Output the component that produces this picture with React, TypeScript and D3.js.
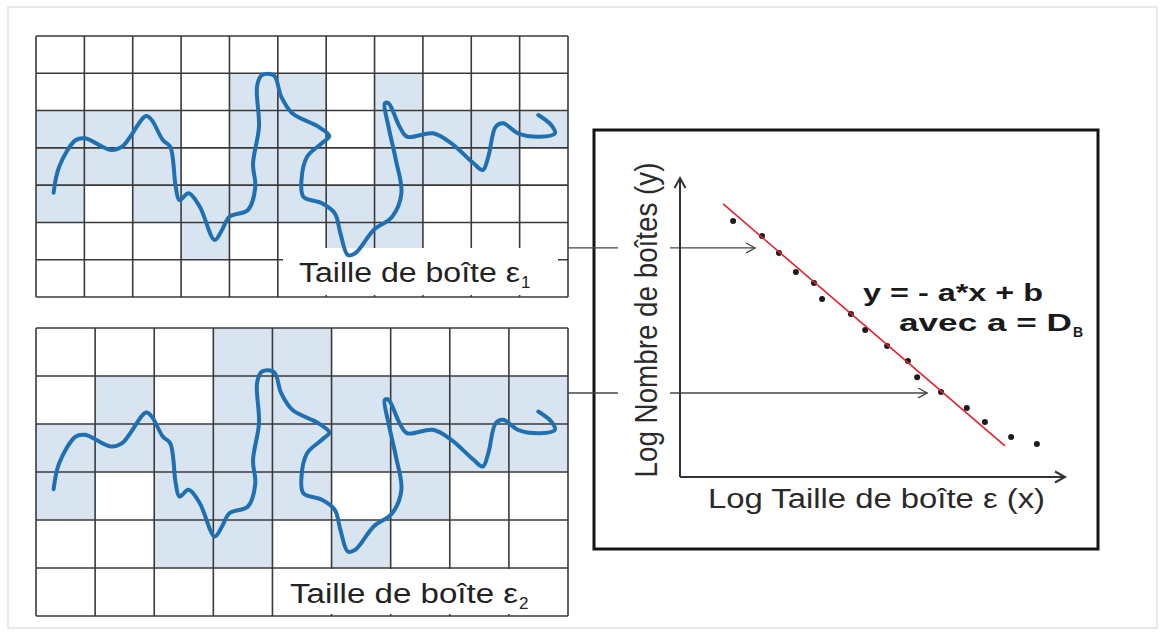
import React, { useEffect, useRef } from 'react';
import * as d3 from 'd3';

const W = 1164;
const H = 635;

// box-counting grids: cells [col, row] that the curve touches
const topCols = 11;
const topRows = 7;
const topShaded = [
  [4, 1], [5, 1], [7, 1],
  [0, 2], [1, 2], [2, 2], [4, 2], [5, 2], [7, 2], [8, 2], [9, 2], [10, 2],
  [0, 3], [1, 3], [2, 3], [4, 3], [5, 3], [7, 3], [8, 3], [9, 3],
  [0, 4], [2, 4], [3, 4], [4, 4], [5, 4], [6, 4], [7, 4],
  [3, 5], [6, 5], [7, 5],
];
const bottomCols = 9;
const bottomRows = 6;
const bottomShaded = [
  [3, 0], [4, 0],
  [1, 1], [3, 1], [4, 1], [5, 1], [6, 1], [7, 1], [8, 1],
  [0, 2], [1, 2], [2, 2], [3, 2], [4, 2], [5, 2], [6, 2], [7, 2], [8, 2],
  [0, 3], [2, 3], [3, 3], [4, 3], [6, 3],
  [2, 4], [3, 4], [5, 4],
];

// the fractal-like curve, in units of the top grid (0..532 x 0..261)
const curvePts = [
  [17.6, 156.7], [23.2, 130.7], [39.8, 104], [49.1, 102.3], [75, 114], [86.1, 110.7],
  [110.1, 80], [115.7, 84], [126.8, 104], [134.2, 110.7], [139.7, 150.7], [143.4, 164],
  [152.7, 157.3], [163.8, 170.7], [178.6, 204], [186, 194], [193.4, 180.7], [211.9, 174],
  [219.3, 150.7], [217, 128], [223, 90.7], [221.1, 50], [226, 39], [238, 39.5],
  [245.2, 60.7], [256.3, 77.3], [282.2, 90.7], [293.3, 100], [285.9, 107.3], [271.1, 120.7],
  [265.5, 144], [267.4, 160.7], [285.9, 167.3], [298.8, 177.3], [304.4, 197.3], [311.8, 219],
  [319.2, 217.3], [337.7, 194], [356.2, 180.7], [365.4, 157.3], [359.9, 124], [352.5, 90.7],
  [348.8, 67.3], [352.5, 67.3], [363.6, 90.7], [371, 100.7], [396.9, 97.3], [415.4, 107.3],
  [437.5, 127.3], [446.8, 134], [452.3, 120.7], [459.7, 90.7], [467.1, 87.3], [481.9, 97.3],
  [504.1, 100.7], [518.9, 97.3], [515.2, 89], [502.3, 79],
];

// log-log plot
const logSize = [1.38, 2.13, 2.57, 3.01, 3.48, 3.69, 4.44, 4.81, 5.38, 5.92, 6.16, 6.78, 7.45, 7.92, 8.6, 9.27];
const logCount = [8.56, 8.06, 7.49, 6.86, 6.49, 5.95, 5.45, 4.92, 4.38, 3.88, 3.34, 2.84, 2.31, 1.84, 1.34, 1.1];
const fitA = 1.105;
const fitB = 10.37;
const fitRange = [1.12, 8.44];
// where each grid's count lands on the y axis, and where its arrow stops
const arrowLevels = [7.66, 2.81];
const arrowTips = [1.95, 6.42];

const font = '"Liberation Sans", Arial, sans-serif';

export default function App() {
  const ref = useRef<SVGSVGElement | null>(null);

  useEffect(() => {
    const svg = d3.select(ref.current);
    svg.selectAll('*').remove();

    svg.append('rect')
      .attr('x', 8).attr('y', 7).attr('width', 1149).attr('height', 621)
      .attr('fill', 'white').attr('stroke', '#d4d4d4').attr('stroke-width', 1);

    const line = d3.line<number[]>().curve(d3.curveCatmullRom.alpha(0.5));

    const drawGrid = (
      x0: number, x1: number, y0: number, y1: number,
      cols: number, rows: number, shaded: number[][],
      label: { rect: number[]; x: number; y: number; len: number; sub: string },
      curveOffset: number,
    ) => {
      const g = svg.append('g');
      const xs = d3.scaleLinear().domain([0, cols]).range([x0, x1]);
      const ys = d3.scaleLinear().domain([0, rows]).range([y0, y1]);

      g.selectAll('rect.cell')
        .data(shaded)
        .enter()
        .append('rect')
        .attr('x', d => xs(d[0]))
        .attr('y', d => ys(d[1]))
        .attr('width', xs(1) - xs(0))
        .attr('height', ys(1) - ys(0))
        .attr('fill', '#d9e4f1');

      g.selectAll('line.v')
        .data(d3.range(cols + 1))
        .enter()
        .append('line')
        .attr('x1', d => xs(d)).attr('x2', d => xs(d))
        .attr('y1', y0).attr('y2', y1)
        .attr('stroke', '#3a3a3a').attr('stroke-width', 1.6);

      g.selectAll('line.h')
        .data(d3.range(rows + 1))
        .enter()
        .append('line')
        .attr('x1', x0).attr('x2', x1)
        .attr('y1', d => ys(d)).attr('y2', d => ys(d))
        .attr('stroke', '#3a3a3a').attr('stroke-width', 1.6);

      const [rx0, ry0, rx1, ry1] = label.rect;
      g.append('rect')
        .attr('x', rx0).attr('y', ry0).attr('width', rx1 - rx0).attr('height', ry1 - ry0)
        .attr('fill', 'white');

      const cx = d3.scaleLinear().domain([0, 532]).range([36, 568]);
      const cy = d3.scaleLinear().domain([0, 261]).range([36 + curveOffset, 297 + curveOffset]);
      g.append('path')
        .attr('d', line(curvePts.map(p => [cx(p[0]), cy(p[1])])))
        .attr('fill', 'none')
        .attr('stroke', '#1f70b2')
        .attr('stroke-width', 4)
        .attr('stroke-linecap', 'round')
        .attr('stroke-linejoin', 'round');

      g.append('text')
        .attr('x', label.x).attr('y', label.y)
        .attr('font-family', font).attr('font-size', 27)
        .attr('fill', '#222')
        .attr('textLength', label.len).attr('lengthAdjust', 'spacingAndGlyphs')
        .text('Taille de boîte ε');
      g.append('text')
        .attr('x', label.x + label.len + 1).attr('y', label.y + 6)
        .attr('font-family', font).attr('font-size', 17)
        .attr('fill', '#222')
        .text(label.sub);
    };

    drawGrid(36, 568, 36, 297, topCols, topRows, topShaded,
      { rect: [283, 248, 558, 295], x: 299, y: 282, len: 221, sub: '1' }, 0);
    drawGrid(36, 568, 328, 616, bottomCols, bottomRows, bottomShaded,
      { rect: [274, 569, 566, 614], x: 290, y: 603, len: 228, sub: '2' }, 296.5);

    // plot box
    svg.append('rect')
      .attr('x', 594).attr('y', 130).attr('width', 504).attr('height', 419)
      .attr('fill', 'white').attr('stroke', '#151515').attr('stroke-width', 3);

    const xS = d3.scaleLinear().domain([0, 10]).range([680, 1065]);
    const yS = d3.scaleLinear().domain([0, 10]).range([477, 178]);

    const arrowHead = (x: number, y: number, dir: 'right' | 'up', size: number) => {
      const pts = dir === 'right'
        ? [[x - size, y - size * 0.55], [x, y], [x - size, y + size * 0.55]]
        : [[x - size * 0.55, y + size], [x, y], [x + size * 0.55, y + size]];
      return d3.line()(pts as [number, number][]);
    };

    // connectors from the grids to the y axis
    arrowLevels.forEach((lv, i) => {
      const y = yS(lv);
      svg.append('line')
        .attr('x1', 568).attr('x2', 618).attr('y1', y).attr('y2', y)
        .attr('stroke', '#444').attr('stroke-width', 1.3);
      svg.append('line')
        .attr('x1', 670).attr('x2', xS(arrowTips[i])).attr('y1', y).attr('y2', y)
        .attr('stroke', '#444').attr('stroke-width', 1.3);
      svg.append('path')
        .attr('d', arrowHead(xS(arrowTips[i]), y, 'right', 9))
        .attr('fill', 'none').attr('stroke', '#444').attr('stroke-width', 1.3);
    });

    // axes
    svg.append('line')
      .attr('x1', xS(0)).attr('x2', xS(0)).attr('y1', yS(0)).attr('y2', yS(10))
      .attr('stroke', '#333').attr('stroke-width', 2);
    svg.append('line')
      .attr('x1', xS(0)).attr('x2', xS(10)).attr('y1', yS(0)).attr('y2', yS(0))
      .attr('stroke', '#333').attr('stroke-width', 2);
    svg.append('path')
      .attr('d', arrowHead(xS(0), yS(10), 'up', 10))
      .attr('fill', 'none').attr('stroke', '#333').attr('stroke-width', 2);
    svg.append('path')
      .attr('d', arrowHead(xS(10), yS(0), 'right', 10))
      .attr('fill', 'none').attr('stroke', '#333').attr('stroke-width', 2);

    // points and fitted line
    svg.selectAll('circle.pt')
      .data(logSize.map((v, i) => [v, logCount[i]]))
      .enter()
      .append('circle')
      .attr('cx', d => xS(d[0]))
      .attr('cy', d => yS(d[1]))
      .attr('r', 3)
      .attr('fill', '#1c1c1c');

    svg.append('line')
      .attr('x1', xS(fitRange[0])).attr('y1', yS(fitB - fitA * fitRange[0]))
      .attr('x2', xS(fitRange[1])).attr('y2', yS(fitB - fitA * fitRange[1]))
      .attr('stroke', '#e3202c').attr('stroke-width', 1.6);

    // labels
    svg.append('text')
      .attr('x', 708).attr('y', 508)
      .attr('font-family', font).attr('font-size', 27).attr('fill', '#2a2a2a')
      .attr('textLength', 337).attr('lengthAdjust', 'spacingAndGlyphs')
      .text('Log Taille de boîte ε (x)');

    svg.append('text')
      .attr('transform', 'translate(657,320) scale(1.19,1) rotate(-90)')
      .attr('text-anchor', 'middle')
      .attr('font-family', font).attr('font-size', 27).attr('fill', '#2a2a2a')
      .attr('textLength', 315).attr('lengthAdjust', 'spacingAndGlyphs')
      .text('Log Nombre de boîtes (y)');

    svg.append('text')
      .attr('x', 863).attr('y', 301)
      .attr('font-family', font).attr('font-size', 23).attr('font-weight', 'bold').attr('fill', '#1a1a1a')
      .attr('textLength', 180).attr('lengthAdjust', 'spacingAndGlyphs')
      .text('y = - a*x + b');

    svg.append('text')
      .attr('x', 899).attr('y', 331)
      .attr('font-family', font).attr('font-size', 23).attr('font-weight', 'bold').attr('fill', '#1a1a1a')
      .attr('textLength', 173).attr('lengthAdjust', 'spacingAndGlyphs')
      .text('avec a = D');
    svg.append('text')
      .attr('x', 1073).attr('y', 337)
      .attr('font-family', font).attr('font-size', 14).attr('font-weight', 'bold').attr('fill', '#1a1a1a')
      .text('B');
  }, []);

  return (
    <svg
      ref={ref}
      width={W}
      height={H}
      style={{ position: 'absolute', left: 0, top: 0, background: 'white' }}
    />
  );
}
